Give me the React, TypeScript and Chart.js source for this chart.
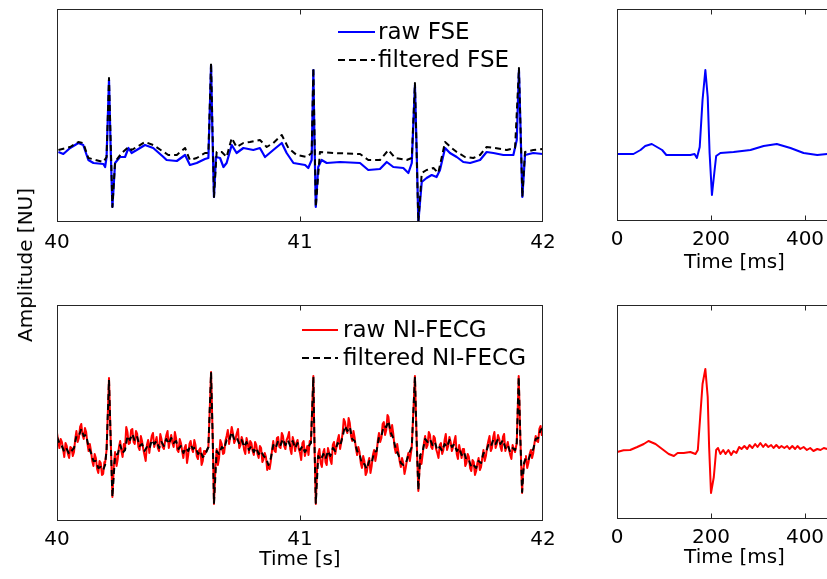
import React, { useEffect, useRef } from "react";
import { Chart, registerables } from "chart.js";
Chart.register(...registerables);

const FONT = "'DejaVu Sans', Verdana, sans-serif";

type Pair = [number, number];

// ---- Left panels: time [s] vs amplitude [NU] ----
const leftTicks = [40, 41, 42];
const rightTicks = [0, 200, 400];

const fseRaw: Pair[] = [
  [40.006,0.3],[40.026,0.1],[40.054,0.7],[40.088,1.2],[40.108,1.0],[40.129,-0.5],[40.150,-0.8],[40.191,-0.9],[40.198,-1.2],[40.204,-0.2],
  [40.214,7.5],[40.221,0.5],[40.228,-5.2],[40.239,-0.8],[40.259,-0.2],[40.280,-0.2],[40.294,0.7],[40.307,0.2],[40.328,0.5],[40.362,1.0],
  [40.396,0.7],[40.438,-0.2],[40.451,-0.5],[40.493,-0.6],[40.527,0.0],[40.547,-1.0],[40.575,-0.8],[40.609,-0.4],[40.623,-0.3],[40.634,9.0],
  [40.639,2.8],[40.646,-4.2],[40.654,-0.2],[40.671,-0.3],[40.685,-1.2],[40.698,-0.8],[40.719,1.0],[40.739,0.2],[40.767,0.7],[40.808,0.5],
  [40.835,0.7],[40.856,-0.2],[40.890,0.5],[40.925,1.2],[40.945,0.2],[40.973,-0.8],[41.021,-1.0],[41.034,-1.3],[41.048,-0.5],[41.055,8.5],
  [41.059,2.2],[41.065,-5.2],[41.075,-1.2],[41.089,-0.5],[41.110,-0.8],[41.165,-0.7],[41.247,-0.8],[41.281,-1.5],[41.329,-1.4],[41.357,-0.7],
  [41.384,-1.2],[41.425,-1.3],[41.446,-1.8],[41.460,-0.8],[41.473,7.0],[41.480,0.5],[41.487,-6.7],[41.501,-2.7],[41.521,-2.3],[41.542,-2.0],
  [41.562,-2.2],[41.576,-1.5],[41.597,0.7],[41.617,0.2],[41.645,-0.2],[41.672,-0.7],[41.700,-0.8],[41.741,-0.5],[41.768,0.3],[41.796,0.2],
  [41.837,0.0],[41.878,0.0],[41.892,1.5],[41.901,8.5],[41.908,2.2],[41.915,-4.2],[41.926,0.0],[41.960,0.2],[41.999,0.1],
];

const fseFiltered: Pair[] = [
  [40.006,0.5],[40.054,0.8],[40.088,1.3],[40.108,1.2],[40.129,-0.3],[40.191,-0.7],[40.204,-0.2],[40.214,7.7],[40.228,-5.2],[40.239,-0.7],
  [40.266,0.2],[40.294,0.8],[40.307,0.5],[40.328,0.8],[40.362,1.3],[40.396,1.0],[40.458,0.0],[40.493,0.0],[40.527,0.7],[40.547,-0.5],
  [40.575,-0.3],[40.609,0.2],[40.623,0.2],[40.634,9.2],[40.646,-4.2],[40.657,0.3],[40.678,0.3],[40.698,-0.2],[40.719,1.7],[40.739,0.8],
  [40.767,1.2],[40.794,1.3],[40.835,1.5],[40.863,0.8],[40.890,1.2],[40.925,2.0],[40.952,0.7],[40.986,0.0],[41.027,-0.2],[41.048,0.2],
  [41.055,8.7],[41.065,-5.2],[41.082,0.3],[41.137,0.2],[41.247,0.1],[41.281,-0.5],[41.329,-0.5],[41.364,0.5],[41.391,-0.3],[41.439,-0.5],
  [41.460,-0.3],[41.473,7.2],[41.487,-6.7],[41.501,-1.8],[41.521,-1.5],[41.549,-1.3],[41.569,-1.8],[41.597,1.3],[41.624,0.7],[41.645,0.3],
  [41.679,-0.2],[41.713,-0.3],[41.741,0.0],[41.768,0.8],[41.803,0.7],[41.851,0.5],[41.885,0.7],[41.901,8.7],[41.915,-4.2],[41.926,0.3],
  [41.960,0.5],[41.999,0.6],
];

const niRaw: Pair[] = [
  [40.000,1.2],[40.005,0.4],[40.010,-0.3],[40.015,0.6],[40.020,0.3],[40.025,-0.4],[40.030,-1.2],[40.035,0.2],[40.040,-0.1],[40.045,-0.9],
  [40.050,-1.3],[40.055,-0.2],[40.060,-0.3],[40.065,-1.1],[40.070,-0.7],[40.075,0.6],[40.080,1.4],[40.085,0.3],[40.090,0.7],[40.095,1.8],
  [40.100,2.1],[40.105,1.0],[40.110,0.6],[40.115,1.7],[40.120,1.3],[40.125,0.2],[40.130,-0.6],[40.135,0.1],[40.140,-0.6],[40.145,-1.6],
  [40.150,-2.1],[40.155,-0.9],[40.160,-1.3],[40.165,-2.4],[40.170,-2.8],[40.175,-1.6],[40.180,-1.8],[40.185,-3.0],[40.190,-2.9],[40.195,-1.7],
  [40.198,-1.8],[40.204,-0.5],[40.214,6.7],[40.221,0.5],[40.228,-5.2],[40.234,-2.0],[40.239,-0.7],[40.245,-2.1],[40.250,-1.4],[40.255,-0.2],
  [40.260,0.4],[40.265,-0.6],[40.270,-1.2],[40.275,0.1],[40.280,-0.3],[40.285,1.8],[40.290,1.3],[40.295,0.1],[40.300,0.2],[40.305,1.5],
  [40.310,1.6],[40.315,0.3],[40.320,0.1],[40.325,1.4],[40.330,1.1],[40.335,-0.2],[40.340,-0.5],[40.345,0.9],[40.350,0.4],[40.355,-0.4],
  [40.360,-1.0],[40.365,-1.6],[40.370,0.0],[40.375,0.5],[40.380,-0.8],[40.385,0.2],[40.390,0.9],[40.395,1.2],[40.400,-0.2],[40.405,0.3],
  [40.410,0.8],[40.415,-0.3],[40.420,-0.6],[40.425,1.1],[40.430,0.6],[40.435,-0.2],[40.440,-0.4],[40.445,0.4],[40.450,1.0],[40.455,1.4],
  [40.460,-0.3],[40.465,0.5],[40.470,1.0],[40.475,0.2],[40.480,-0.2],[40.485,1.3],[40.490,0.7],[40.495,-0.5],[40.500,-0.7],[40.505,0.6],
  [40.510,0.2],[40.515,-0.6],[40.520,-1.3],[40.525,-0.3],[40.530,0.0],[40.535,-1.8],[40.540,-1.0],[40.545,0.1],[40.550,0.4],[40.555,-0.4],
  [40.560,-0.7],[40.565,0.5],[40.570,0.0],[40.575,-1.1],[40.580,-1.4],[40.585,-0.5],[40.590,-0.3],[40.595,-2.0],[40.600,-1.6],[40.605,-0.6],
  [40.609,-0.9],[40.623,-0.2],[40.634,7.3],[40.641,0.5],[40.646,-5.9],[40.652,-2.2],[40.657,-0.4],[40.662,-2.0],[40.667,-1.3],[40.672,0.5],
  [40.678,0.1],[40.683,-0.9],[40.688,-0.8],[40.693,0.4],[40.698,0.9],[40.703,1.5],[40.708,0.1],[40.713,0.8],[40.719,1.8],[40.724,1.2],
  [40.729,0.2],[40.734,0.5],[40.739,1.1],[40.745,1.6],[40.750,-0.3],[40.755,0.0],[40.760,0.8],[40.765,0.4],[40.770,-0.5],[40.775,-0.9],
  [40.780,0.7],[40.785,0.2],[40.790,-0.8],[40.795,0.4],[40.800,0.2],[40.805,-0.6],[40.810,-1.0],[40.815,0.3],[40.820,0.0],[40.825,-0.9],
  [40.830,-1.3],[40.835,-0.1],[40.840,-0.3],[40.845,-1.7],[40.850,-1.4],[40.855,-0.8],[40.860,-1.2],[40.865,-2.5],[40.870,-2.0],[40.875,-2.4],
  [40.880,-1.6],[40.885,-0.5],[40.890,0.4],[40.895,-0.6],[40.900,-0.7],[40.905,0.7],[40.910,0.8],[40.915,-0.2],[40.920,-0.3],[40.925,1.2],
  [40.930,0.9],[40.935,-0.1],[40.940,-0.4],[40.945,0.5],[40.950,0.8],[40.955,1.3],[40.960,-0.4],[40.965,-0.9],[40.970,0.8],[40.975,0.3],
  [40.980,-0.6],[40.985,0.2],[40.990,0.5],[40.995,-0.4],[41.000,-0.8],[41.005,-1.5],[41.010,0.2],[41.015,0.4],[41.020,-1.1],[41.025,-0.6],
  [41.030,-0.1],[41.035,-1.0],[41.040,0.4],[41.045,0.2],[41.055,6.9],[41.059,0.8],[41.065,-5.9],[41.070,-2.5],[41.075,-0.9],[41.080,-0.4],
  [41.085,-1.8],[41.090,-2.2],[41.096,-0.7],[41.100,-0.4],[41.105,-1.7],[41.110,-2.0],[41.115,-0.3],[41.120,-0.8],[41.125,-1.5],[41.130,-1.9],
  [41.135,0.0],[41.140,0.3],[41.145,-0.9],[41.150,-0.2],[41.155,0.5],[41.160,1.0],[41.165,-0.4],[41.170,0.3],[41.175,1.1],[41.180,2.6],
  [41.185,2.3],[41.190,1.5],[41.195,1.2],[41.200,2.7],[41.205,2.2],[41.210,0.9],[41.215,0.4],[41.220,1.4],[41.225,0.7],[41.230,-0.3],
  [41.235,-1.0],[41.240,-0.2],[41.245,-0.7],[41.250,-1.8],[41.255,-2.3],[41.260,-1.1],[41.265,-1.6],[41.270,-3.0],[41.275,-2.7],[41.280,-1.8],
  [41.285,-1.3],[41.290,-2.8],[41.295,-2.1],[41.300,-1.0],[41.305,-0.5],[41.310,-1.6],[41.315,-0.9],[41.320,0.4],[41.325,1.2],[41.330,0.3],
  [41.335,0.7],[41.340,2.1],[41.345,2.3],[41.350,1.0],[41.355,1.5],[41.360,3.0],[41.364,2.8],[41.369,1.6],[41.374,0.9],[41.379,2.0],
  [41.384,1.1],[41.389,-0.2],[41.394,-0.8],[41.400,0.1],[41.405,-0.7],[41.410,-1.6],[41.415,-2.2],[41.420,-1.3],[41.425,-1.8],[41.430,-2.9],
  [41.435,-2.3],[41.440,-1.5],[41.446,-0.8],[41.452,-1.6],[41.460,-0.2],[41.473,6.9],[41.480,0.5],[41.487,-4.6],[41.495,-1.0],[41.500,-1.9],
  [41.505,-0.9],[41.510,0.2],[41.515,0.9],[41.520,-0.3],[41.525,0.0],[41.530,1.3],[41.535,1.0],[41.540,-0.2],[41.545,-0.4],[41.550,0.9],
  [41.555,0.7],[41.560,-0.4],[41.565,-0.8],[41.570,-1.3],[41.575,0.0],[41.580,0.2],[41.585,-0.9],[41.590,-0.5],[41.595,0.5],[41.600,1.1],
  [41.605,-0.5],[41.610,-0.1],[41.615,0.8],[41.620,0.3],[41.625,-0.6],[41.630,-0.2],[41.635,0.4],[41.640,0.9],[41.645,-0.9],[41.650,-1.4],
  [41.655,0.0],[41.660,-0.6],[41.665,-1.3],[41.670,-0.4],[41.675,-0.4],[41.680,-2.1],[41.685,-1.8],[41.690,-0.9],[41.695,-1.2],[41.700,-2.3],
  [41.705,-2.6],[41.710,-1.5],[41.715,-1.7],[41.720,-3.0],[41.725,-2.6],[41.730,-1.8],[41.735,-1.3],[41.740,-2.5],[41.745,-2.2],[41.750,-1.3],
  [41.755,-0.5],[41.760,-1.6],[41.765,-1.1],[41.770,-0.2],[41.775,0.4],[41.780,0.9],[41.785,-0.6],[41.790,-0.3],[41.795,0.8],[41.800,1.3],
  [41.805,-0.3],[41.810,0.1],[41.815,1.0],[41.820,0.6],[41.825,-0.2],[41.830,-0.6],[41.835,0.8],[41.840,1.1],[41.845,-0.6],[41.850,-0.2],
  [41.855,0.3],[41.860,-0.4],[41.865,-1.0],[41.870,-1.4],[41.875,0.0],[41.880,-0.4],[41.885,-0.7],[41.892,0.2],[41.900,6.9],[41.907,0.5],
  [41.914,-4.8],[41.918,-2.6],[41.922,-2.0],[41.926,-1.4],[41.930,-1.1],[41.935,-2.3],[41.940,-1.8],[41.945,-0.9],[41.950,-0.5],[41.955,-1.3],
  [41.960,-0.8],[41.965,0.2],[41.970,0.9],[41.975,0.4],[41.980,0.3],[41.985,1.6],[41.990,1.9],[41.995,1.0],[42.000,1.5],
];

const niFiltered: Pair[] = [
  [40.00,0.8],[40.01,0.2],[40.02,-0.1],[40.03,-0.7],[40.04,-0.4],[40.05,-0.9],[40.06,-0.6],[40.07,-0.3],[40.08,0.9],[40.09,0.9],
  [40.10,1.6],[40.11,0.9],[40.12,1.0],[40.13,-0.2],[40.14,-0.8],[40.15,-1.6],[40.16,-1.6],[40.17,-2.3],[40.18,-2.2],[40.19,-2.5],
  [40.198,-2.0],[40.204,-0.5],[40.214,6.5],[40.221,0.5],[40.228,-5.2],[40.239,-1.0],[40.25,-0.9],[40.26,0.0],[40.27,-0.8],[40.28,-0.5],
  [40.29,0.9],[40.30,0.5],[40.31,1.1],[40.32,0.4],[40.33,0.8],[40.34,-0.1],[40.35,0.1],[40.36,-0.6],[40.37,-0.2],[40.38,-0.4],
  [40.39,0.5],[40.40,0.1],[40.41,0.4],[40.42,-0.3],[40.43,0.3],[40.44,-0.1],[40.45,0.6],[40.46,0.1],[40.47,0.7],[40.48,0.2],
  [40.49,0.4],[40.50,-0.4],[40.51,-0.1],[40.52,-0.8],[40.53,-0.3],[40.54,-0.6],[40.55,0.0],[40.56,-0.4],[40.57,-0.2],[40.58,-0.9],
  [40.59,-0.6],[40.60,-1.2],[40.609,-1.0],[40.623,-0.2],[40.634,7.2],[40.641,0.5],[40.646,-5.8],[40.657,-0.6],[40.667,-0.9],[40.678,-0.2],
  [40.688,-0.4],[40.698,0.5],[40.708,0.4],[40.719,1.3],[40.729,0.6],[40.739,0.8],[40.75,0.1],[40.76,0.5],[40.77,-0.2],[40.78,0.3],
  [40.79,-0.5],[40.80,-0.1],[40.81,-0.7],[40.82,-0.3],[40.83,-0.9],[40.84,-0.6],[40.85,-1.1],[40.86,-1.3],[40.87,-2.0],[40.88,-1.3],
  [40.89,0.0],[40.90,-0.3],[40.91,0.4],[40.92,0.0],[40.93,0.6],[40.94,0.0],[40.95,0.5],[40.96,-0.1],[40.97,0.4],[40.98,-0.3],
  [40.99,0.2],[41.00,-0.5],[41.01,-0.1],[41.02,-0.7],[41.03,-0.3],[41.045,0.2],[41.055,6.8],[41.059,0.8],[41.065,-5.8],[41.075,-1.1],
  [41.085,-1.5],[41.096,-0.9],[41.105,-1.4],[41.115,-0.6],[41.125,-1.1],[41.135,-0.3],[41.145,-0.6],[41.155,0.2],[41.165,-0.1],[41.175,0.8],
  [41.185,1.9],[41.195,1.4],[41.205,1.8],[41.215,0.6],[41.225,0.4],[41.235,-0.6],[41.245,-0.9],[41.255,-1.9],[41.265,-1.9],[41.275,-2.4],
  [41.285,-1.6],[41.295,-1.8],[41.305,-0.7],[41.315,-0.6],[41.325,0.8],[41.335,0.9],[41.345,1.9],[41.355,1.8],[41.364,2.4],[41.374,1.2],
  [41.384,0.7],[41.394,-0.4],[41.405,-1.0],[41.415,-1.8],[41.425,-2.0],[41.435,-1.9],[41.446,-1.0],[41.460,-0.2],[41.473,6.8],[41.480,0.5],
  [41.487,-4.5],[41.495,-1.0],[41.505,-0.6],[41.515,0.6],[41.525,0.3],[41.535,0.6],[41.545,0.0],[41.555,0.3],[41.565,-0.5],[41.575,-0.2],
  [41.585,-0.6],[41.595,0.1],[41.605,-0.2],[41.615,0.5],[41.625,-0.2],[41.635,0.1],[41.645,-0.6],[41.655,-0.3],[41.665,-1.0],[41.675,-0.7],
  [41.685,-1.5],[41.695,-1.5],[41.705,-2.2],[41.715,-2.0],[41.725,-2.3],[41.735,-1.6],[41.745,-1.8],[41.755,-0.8],[41.765,-0.8],[41.775,0.0],
  [41.785,-0.2],[41.795,0.5],[41.805,0.1],[41.815,0.6],[41.825,0.1],[41.835,0.5],[41.845,-0.3],[41.855,0.0],[41.865,-0.7],[41.875,-0.3],
  [41.885,-0.5],[41.892,0.2],[41.900,6.8],[41.907,0.5],[41.914,-4.7],[41.922,-1.8],[41.930,-1.3],[41.940,-1.5],[41.950,-0.8],[41.960,-0.4],
  [41.970,0.6],[41.980,0.7],[41.990,1.5],[42.000,1.7],
];

// ---- Right panels: averaged beat, time [ms] ----
const fseBeat: Pair[] = [
  [0,0.1],[21,0.1],[35,0.1],[50,0.5],[60,0.9],[74,1.1],[85,0.8],[96,0.5],[105,0.0],[128,0.0],
  [156,0.0],[165,0.1],[170,-0.3],[176,0.8],[182,5.5],[188,8.5],[193,5.8],[197,0.2],[202,-4.0],[207,-1.8],
  [211,-0.1],[220,0.2],[248,0.3],[284,0.5],[312,0.9],[340,1.1],[369,0.7],[397,0.2],[426,0.0],[447,0.1],
];

const niBeat: Pair[] = [
  [0,0.0],[14,0.17],[28,0.2],[43,0.5],[57,0.8],[67,1.1],[82,0.8],[96,0.3],[110,-0.2],[121,-0.4],
  [129,-0.1],[142,-0.1],[156,0.0],[167,-0.2],[172,0.2],[177,3.5],[182,6.8],[188,8.3],[193,5.5],[196,0.5],
  [200,-4.1],[206,-2.5],[211,0.2],[215,0.4],[220,-0.2],[226,0.2],[231,-0.2],[237,0.2],[243,-0.3],[248,0.1],
  [254,-0.1],[260,0.5],[265,0.3],[271,0.6],[277,0.3],[282,0.7],[288,0.4],[294,0.8],[299,0.5],[305,0.9],
  [311,0.5],[316,0.8],[322,0.5],[328,0.7],[333,0.4],[339,0.7],[345,0.4],[350,0.6],[356,0.4],[362,0.6],
  [367,0.3],[373,0.6],[379,0.3],[384,0.6],[390,0.3],[397,0.5],[404,0.2],[411,0.4],[418,0.1],[426,0.3],
  [433,0.2],[440,0.4],[447,0.3],
];

const legendTop = ["raw FSE", "filtered FSE"];
const legendBottom = ["raw NI-FECG", "filtered NI-FECG"];

const toXY = (p: Pair[]) => p.map(([x, y]) => ({ x, y }));

const boxPlugin = {
  id: "matlabBox",
  afterDatasetsDraw(chart: any) {
    const { ctx, chartArea: a, scales } = chart;
    const xs = scales.x;
    const l = Math.round(a.left) + 0.5;
    const t = Math.round(a.top) + 0.5;
    const r = Math.round(a.right) - 0.5;
    const b = Math.round(a.bottom) - 0.5;
    ctx.save();
    ctx.setLineDash([]);
    ctx.strokeStyle = "#262626";
    ctx.lineWidth = 1;
    ctx.strokeRect(l, t, r - l, b - t);
    xs.ticks.forEach((tk: any) => {
      const px = Math.round(xs.getPixelForValue(tk.value)) + 0.5;
      if (px <= l + 2 || px >= r - 2) return;
      ctx.beginPath();
      ctx.moveTo(px, b);
      ctx.lineTo(px, b - 5);
      ctx.moveTo(px, t);
      ctx.lineTo(px, t + 5);
      ctx.stroke();
    });
    ctx.restore();
  },
};

const legendPlugin = {
  id: "matlabLegend",
  afterDraw(chart: any, _args: any, opts: any) {
    if (!opts || !opts.items) return;
    const { ctx } = chart;
    ctx.save();
    ctx.font = `${opts.fontSize}px ${FONT}`;
    ctx.textBaseline = "middle";
    ctx.fillStyle = "#000";
    opts.items.forEach((label: string, i: number) => {
      const ds = chart.data.datasets[opts.datasetIndex[i]];
      const y = opts.y + i * opts.rowGap;
      ctx.beginPath();
      ctx.strokeStyle = ds.borderColor;
      ctx.lineWidth = 2;
      ctx.setLineDash(ds.borderDash && ds.borderDash.length ? [7, 4] : []);
      ctx.moveTo(opts.x, y);
      ctx.lineTo(opts.x + opts.lineLen, y);
      ctx.stroke();
      ctx.setLineDash([]);
      ctx.fillText(label, opts.x + opts.lineLen + opts.textGap, y + 1);
    });
    ctx.restore();
  },
};

type PanelCfg = {
  left: number; top: number; width: number; height: number;
  padL: number; padR: number; padT: number; axisH: number;
  xmin: number; xmax: number; ymin: number; ymax: number;
  ticks: number[]; tickPad: number;
  title?: string; titlePadB?: number;
  datasets: any[];
  legend?: any;
};

function Panel({ cfg }: { cfg: PanelCfg }) {
  const ref = useRef<HTMLCanvasElement | null>(null);
  useEffect(() => {
    if (!ref.current) return;
    const chart = new Chart(ref.current, {
      type: "line",
      data: { datasets: cfg.datasets },
      options: {
        animation: false,
        responsive: false,
        maintainAspectRatio: false,
        events: [],
        layout: { padding: { left: cfg.padL, right: cfg.padR, top: cfg.padT, bottom: 0 } },
        elements: { point: { radius: 0 }, line: { tension: 0 } },
        plugins: {
          legend: { display: false },
          tooltip: { enabled: false },
          matlabLegend: cfg.legend || {},
        } as any,
        scales: {
          x: {
            type: "linear",
            min: cfg.xmin,
            max: cfg.xmax,
            afterBuildTicks: (s: any) => {
              s.ticks = cfg.ticks.map((v) => ({ value: v }));
            },
            afterFit: (s: any) => {
              s.height = cfg.axisH;
            },
            ticks: {
              font: { family: FONT, size: 20 },
              color: "#000",
              padding: cfg.tickPad,
              maxRotation: 0,
              autoSkip: false,
              callback: (v: any) => String(v),
            },
            grid: { display: false, drawTicks: false },
            border: { display: false },
            title: cfg.title
              ? {
                  display: true,
                  text: cfg.title,
                  font: { family: FONT, size: 20 },
                  color: "#000",
                  padding: { top: 0, bottom: cfg.titlePadB || 0 },
                }
              : { display: false },
          } as any,
          y: { type: "linear", display: false, min: cfg.ymin, max: cfg.ymax },
        },
      },
      plugins: [boxPlugin, legendPlugin],
    });
    return () => chart.destroy();
  }, []);
  return (
    <canvas
      ref={ref}
      width={cfg.width}
      height={cfg.height}
      style={{ position: "absolute", left: cfg.left, top: cfg.top, width: cfg.width, height: cfg.height }}
    />
  );
}

const lineDs = (data: Pair[], color: string, dashed: boolean, order: number, width = 2) => ({
  data: toXY(data),
  borderColor: color,
  borderWidth: width,
  borderDash: dashed ? [6, 4] : [],
  borderJoinStyle: "round",
  borderCapStyle: "butt",
  pointRadius: 0,
  fill: false,
  order,
});

export default function App() {
  const topLeft: PanelCfg = {
    left: 0, top: 0, width: 580, height: 290,
    padL: 57, padR: 37, padT: 9, axisH: 68,
    xmin: 40, xmax: 42, ymin: -6.7, ymax: 14.6,
    ticks: leftTicks, tickPad: 9,
    datasets: [lineDs(fseRaw, "#0000ff", false, 1, 2.2), lineDs(fseFiltered, "#000000", true, 0)],
    legend: { items: legendTop, datasetIndex: [0, 1], x: 338, y: 32, rowGap: 28, lineLen: 37, textGap: 3, fontSize: 23 },
  };
  const bottomLeft: PanelCfg = {
    left: 0, top: 290, width: 580, height: 289,
    padL: 57, padR: 37, padT: 15, axisH: 58,
    xmin: 40, xmax: 42, ymin: -7.6, ymax: 14.0,
    ticks: leftTicks, tickPad: 7,
    title: "Time [s]", titlePadB: 7,
    datasets: [lineDs(niRaw, "#ff0000", false, 1, 2), lineDs(niFiltered, "#000000", true, 0)],
    legend: { items: legendBottom, datasetIndex: [0, 1], x: 302, y: 40, rowGap: 28, lineLen: 36, textGap: 5, fontSize: 23 },
  };
  const topRight: PanelCfg = {
    left: 580, top: 0, width: 300, height: 290,
    padL: 37, padR: 28, padT: 9, axisH: 69,
    xmin: 0, xmax: 500, ymin: -6.6, ymax: 14.6,
    ticks: rightTicks, tickPad: 7,
    title: "Time [ms]", titlePadB: 15,
    datasets: [lineDs(fseBeat, "#0000ff", false, 0)],
  };
  const bottomRight: PanelCfg = {
    left: 580, top: 290, width: 300, height: 289,
    padL: 37, padR: 28, padT: 15, axisH: 60,
    xmin: 0, xmax: 500, ymin: -6.7, ymax: 14.7,
    ticks: rightTicks, tickPad: 7,
    title: "Time [ms]", titlePadB: 9,
    datasets: [lineDs(niBeat, "#ff0000", false, 0)],
  };
  return (
    <div style={{ position: "absolute", left: 0, top: 0, width: 827, height: 579, overflow: "hidden", background: "#fff" }}>
      <Panel cfg={topLeft} />
      <Panel cfg={bottomLeft} />
      <Panel cfg={topRight} />
      <Panel cfg={bottomRight} />
      <div
        style={{
          position: "absolute", left: 25, top: 265, transform: "translate(-50%, -50%) rotate(-90deg)",
          fontFamily: FONT, fontSize: 20, whiteSpace: "nowrap", color: "#000", lineHeight: "24px",
        }}
      >
        Amplitude [NU]
      </div>
    </div>
  );
}
